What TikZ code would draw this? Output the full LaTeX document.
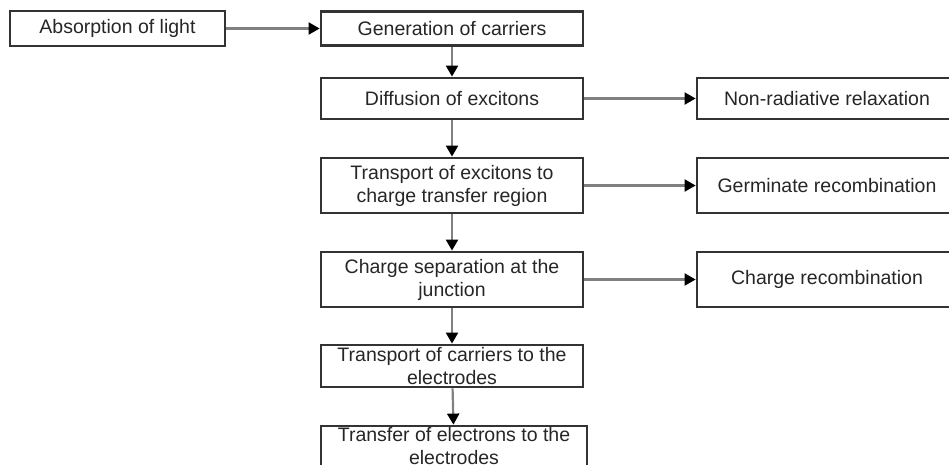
\documentclass[tikz,border=0pt]{standalone}
\usepackage{fontspec}
\setmainfont{Liberation Sans}
\usetikzlibrary{arrows.meta}
\definecolor{boxline}{HTML}{333333}
\definecolor{arrowline}{HTML}{808080}

\begin{document}
\begin{tikzpicture}
[x=1pt,y=-1pt,%
  lineDecorate/.style={draw=arrowline,line width=2.2pt,-{Triangle[length=11pt,width=12pt,color=black]}},%
  boxDecorate/.style={draw=boxline,line width=2.8pt,inner sep=0pt,align=center,text=black!85,font=\fontsize{19.5}{23}\selectfont}]
\useasboundingbox (0,0) rectangle (949,465);
%% process boxes
\foreach \nodename/\x/\y/\w/\h/\txt in {
  absorb/117.5/28.5/215/35/{Absorption of light},
  gen/452/28.5/262/34/{Generation of carriers},
  diff/452/98.5/262/41/{Diffusion of excitons},
  transex/452/185.5/262/55/{Transport of excitons to\\charge transfer region},
  chsep/452/279.5/262/55/{Charge separation at the\\junction},
  transcar/452/366/262/42/{Transport of carriers to the\\electrodes},
  transel/454/446/266/40/{Transfer of electrons to the\\electrodes},
  nonrad/827/98.5/260/41/{Non-radiative relaxation},
  germ/827/185.5/260/55/{Germinate recombination},
  chrec/827/279.5/260/55/{Charge recombination}}
{
  \node[boxDecorate,minimum width=\w pt,minimum height=\h pt] (\nodename) at (\x,\y) {\txt};
}
%% connect boxes
\path
(absorb) edge[lineDecorate] (gen)
(gen) edge[lineDecorate] (diff)
(diff) edge[lineDecorate] (transex)
(transex) edge[lineDecorate] (chsep)
(chsep) edge[lineDecorate] (transcar)
(transcar) edge[lineDecorate] (transel)
(diff) edge[lineDecorate] (nonrad)
(transex) edge[lineDecorate] (germ)
(chsep) edge[lineDecorate] (chrec);
\end{tikzpicture}
\end{document}
